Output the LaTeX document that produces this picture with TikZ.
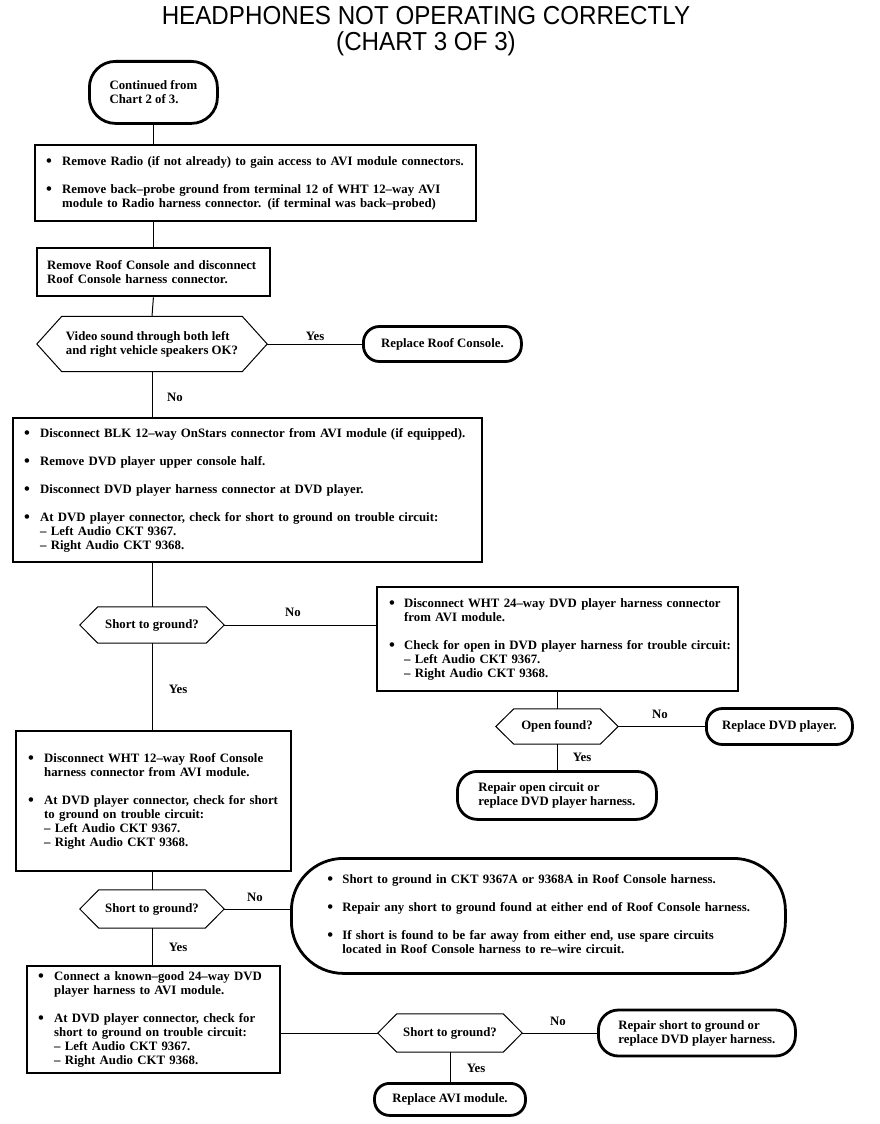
\documentclass[tikz,border=0pt]{standalone}
\usepackage{fontspec}
\setmainfont{Liberation Serif}[BoldFont=Liberation Serif Bold]
\newfontfamily\titlefont{Liberation Sans}
\usetikzlibrary{calc}
\newcommand{\bodyfont}{\fontsize{12.8}{14}\selectfont\bfseries}
\newcommand{\titlesize}{\titlefont\fontsize{26}{26}\selectfont}
\newcommand{\bul}{\raisebox{-1.2pt}{\scalebox{1.3}{\textbullet}}}
\tikzset{
  box/.style={draw, line width=2.4pt, anchor=north west, inner ysep=0pt, align=left, font=\bodyfont},
  term/.style={draw, line width=2.8pt, anchor=north west, inner sep=0pt, align=left, font=\bodyfont},
  hexn/.style={inner sep=0pt, align=left, font=\bodyfont},
  hexline/.style={line width=1pt},
  conn/.style={line width=1pt},
  lbl/.style={font=\bodyfont, inner sep=0pt},
}
\begin{document}
\begin{tikzpicture}[x=1pt,y=-1pt]
\useasboundingbox (0,0) rectangle (880,1124);
% title
\node[font=\titlesize, align=center, inner sep=0pt] (title) at (426,31)
  {\scalebox{0.93}[1]{HEADPHONES NOT OPERATING CORRECTLY}\\[0pt]\scalebox{0.93}[1]{(CHART 3 OF 3)}};
% start
\node[term, rounded corners=26pt, minimum width=128pt, minimum height=62pt] (st) at (88,60)
  {Continued from\\Chart 2 of 3.};
% box 1
\node[box, inner xsep=11pt, text width=419pt, minimum height=76pt] (b1) at (34,144) {%
\begin{tabular}{@{}p{16pt}@{}l@{}}
\bul & Remove Radio (if not already) to gain access to AVI module connectors.\\[14pt]
\bul & Remove back–probe ground from terminal 12 of WHT 12–way AVI\\
 & module to Radio harness connector. (if terminal was back–probed)
\end{tabular}};
% box 2
\node[box, inner xsep=10pt, text width=213pt, minimum height=48pt] (b2) at (36,247)
  {Remove Roof Console and disconnect\\Roof Console harness connector.};
% hex 1
\node[hexn, minimum width=180pt, minimum height=55pt] (h1) at (152,344)
  {Video sound through both left\\and right vehicle speakers OK?};
\coordinate (h1l) at ($(h1.west)+(-25,0)$);
\coordinate (h1r) at ($(h1.east)+(25,0)$);
\draw[hexline] (h1.north west) -- (h1.north east) -- (h1r) -- (h1.south east) -- (h1.south west) -- (h1l) -- cycle;
% replace roof console
\node[term, rounded corners=16pt, minimum width=158pt, minimum height=35pt, anchor=west] (rrc) at (362,344)
  {Replace Roof Console.};
% box 3
\node[box, inner xsep=11pt, text width=447pt, minimum height=144pt] (b3) at (12,417) {%
\begin{tabular}{@{}p{16pt}@{}l@{}}
\bul & Disconnect BLK 12–way OnStars connector from AVI module (if equipped).\\[14pt]
\bul & Remove DVD player upper console half.\\[14pt]
\bul & Disconnect DVD player harness connector at DVD player.\\[14pt]
\bul & At DVD player connector, check for short to ground on trouble circuit:\\
 & – Left Audio CKT 9367.\\
 & – Right Audio CKT 9368.
\end{tabular}};
% hex 2
\node[hexn, minimum width=108pt, minimum height=36pt] (h2) at (152,625) {Short to ground?};
\coordinate (h2l) at ($(h2.west)+(-18,0)$);
\coordinate (h2r) at ($(h2.east)+(18,0)$);
\draw[hexline] (h2.north west) -- (h2.north east) -- (h2r) -- (h2.south east) -- (h2.south west) -- (h2l) -- cycle;
% box 4
\node[box, inner xsep=12pt, text width=337pt, minimum height=104pt] (b4) at (376,586) {%
\begin{tabular}{@{}p{15pt}@{}l@{}}
\bul & Disconnect WHT 24–way DVD player harness connector\\
 & from AVI module.\\[14pt]
\bul & Check for open in DVD player harness for trouble circuit:\\
 & – Left Audio CKT 9367.\\
 & – Right Audio CKT 9368.
\end{tabular}};
% hex 3
\node[hexn, minimum width=86pt, minimum height=35pt] (h3) at (557,726.5) {Open found?};
\coordinate (h3l) at ($(h3.west)+(-18,0)$);
\coordinate (h3r) at ($(h3.east)+(18,0)$);
\draw[hexline] (h3.north west) -- (h3.north east) -- (h3r) -- (h3.south east) -- (h3.south west) -- (h3l) -- cycle;
% replace dvd player
\node[term, rounded corners=16pt, minimum width=146pt, minimum height=36pt, anchor=west] (rdvd) at (705,726.5)
  {Replace DVD player.};
% repair open
\node[term, rounded corners=20pt, minimum width=199pt, minimum height=48pt] (ro) at (456,770)
  {Repair open circuit or\\replace DVD player harness.};
% box 5
\node[box, inner xsep=12pt, text width=251pt, minimum height=140pt] (b5) at (15,730) {%
\begin{tabular}{@{}p{16pt}@{}l@{}}
\bul & Disconnect WHT 12–way Roof Console\\
 & harness connector from AVI module.\\[14pt]
\bul & At DVD player connector, check for short\\
 & to ground on trouble circuit:\\
 & – Left Audio CKT 9367.\\
 & – Right Audio CKT 9368.
\end{tabular}};
% hex 4
\node[hexn, minimum width=106pt, minimum height=38pt] (h4) at (152,909) {Short to ground?};
\coordinate (h4l) at ($(h4.west)+(-19,0)$);
\coordinate (h4r) at ($(h4.east)+(19,0)$);
\draw[hexline] (h4.north west) -- (h4.north east) -- (h4r) -- (h4.south east) -- (h4.south west) -- (h4l) -- cycle;
% big terminal
\node[term, rounded corners=52pt, inner xsep=36pt, text width=422pt, minimum height=115pt] (big) at (290,857) {%
\begin{tabular}{@{}p{15pt}@{}l@{}}
\bul & Short to ground in CKT 9367A or 9368A in Roof Console harness.\\[14pt]
\bul & Repair any short to ground found at either end of Roof Console harness.\\[14pt]
\bul & If short is found to be far away from either end, use spare circuits\\
 & located in Roof Console harness to re–wire circuit.
\end{tabular}};
% box 6
\node[box, inner xsep=11pt, text width=231pt, minimum height=107pt] (b6) at (26,965) {%
\begin{tabular}{@{}p{16pt}@{}l@{}}
\bul & Connect a known–good 24–way DVD\\
 & player harness to AVI module.\\[14pt]
\bul & At DVD player connector, check for\\
 & short to ground on trouble circuit:\\
 & – Left Audio CKT 9367.\\
 & – Right Audio CKT 9368.
\end{tabular}};
% hex 5
\node[hexn, minimum width=106pt, minimum height=38pt] (h5) at (450,1033) {Short to ground?};
\coordinate (h5l) at ($(h5.west)+(-19,0)$);
\coordinate (h5r) at ($(h5.east)+(19,0)$);
\draw[hexline] (h5.north west) -- (h5.north east) -- (h5r) -- (h5.south east) -- (h5.south west) -- (h5l) -- cycle;
% repair short
\node[term, rounded corners=20pt, minimum width=197pt, minimum height=46pt, anchor=west] (rs) at (597,1033)
  {Repair short to ground or\\replace DVD player harness.};
% replace AVI
\node[term, rounded corners=15pt, minimum width=151pt, minimum height=32pt, anchor=north] (avi) at (450,1082)
  {Replace AVI module.};
% connectors
\draw[conn] (st.south) -- (st.south |- b1.north);
\draw[conn] (st.south |- b1.south) -- (st.south |- b2.north);
\draw[conn] (st.south |- b2.south) -- (h1.north);
\draw[conn] (h1r) -- (rrc.west);
\draw[conn] (h1.south) -- (h1.south |- b3.north);
\draw[conn] (h2 |- b3.south) -- (h2.north);
\draw[conn] (h2r) -- (h2r -| b4.west);
\draw[conn] (h3 |- b4.south) -- (h3.north);
\draw[conn] (h3r) -- (rdvd.west);
\draw[conn] (h3.south) -- (h3.south |- ro.north);
\draw[conn] (h2.south) -- (h2.south |- b5.north);
\draw[conn] (h4 |- b5.south) -- (h4.north);
\draw[conn] (h4r) -- (h4r -| big.west);
\draw[conn] (h4.south) -- (h4.south |- b6.north);
\draw[conn] (b6.east |- h5) -- (h5l);
\draw[conn] (h5r) -- (rs.west);
\draw[conn] (h5.south) -- (avi.north);
% labels
\node[lbl] (l1) at (315,336) {Yes};
\node[lbl] (l2) at (175,397) {No};
\node[lbl] (l3) at (293,612) {No};
\node[lbl] (l4) at (178,689) {Yes};
\node[lbl] (l5) at (660,714) {No};
\node[lbl] (l6) at (582,757) {Yes};
\node[lbl] (l7) at (255,897) {No};
\node[lbl] (l8) at (178,947) {Yes};
\node[lbl] (l9) at (558,1021) {No};
\node[lbl] (l10) at (476,1068) {Yes};
\end{tikzpicture}
\end{document}
